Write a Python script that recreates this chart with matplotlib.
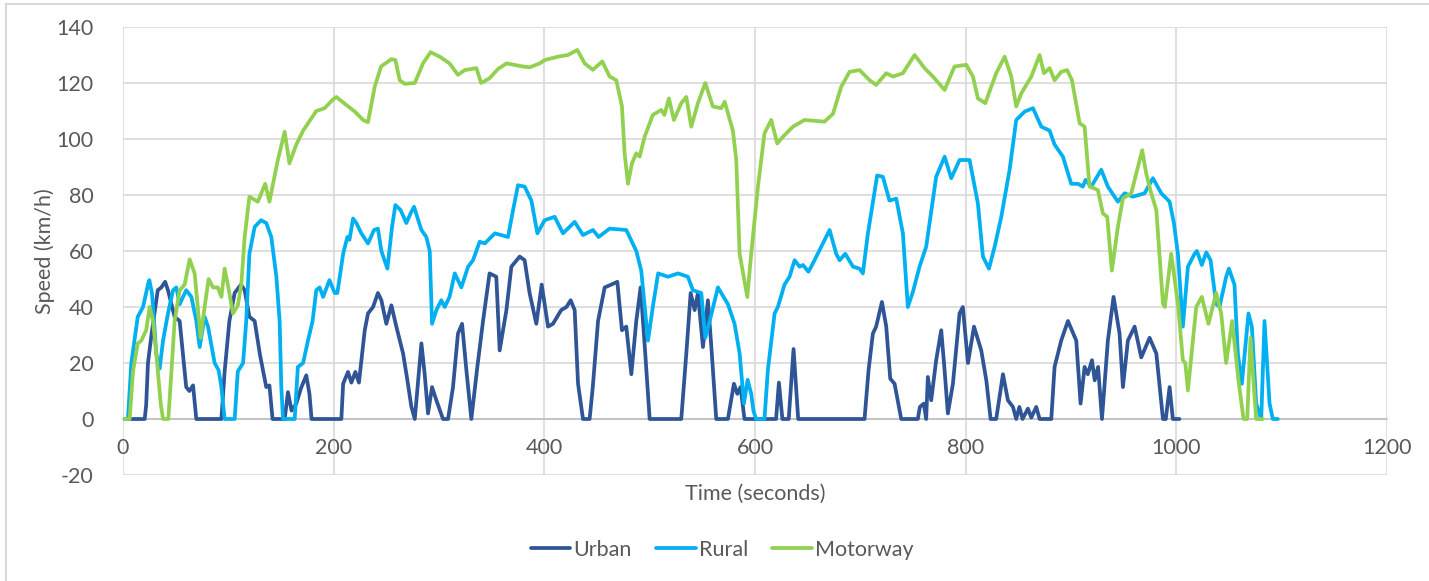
import matplotlib
matplotlib.use('Agg')
import matplotlib.pyplot as plt
from matplotlib.lines import Line2D

# 数据（从图上读取的时间-速度点）
urban_t = [0, 20.6, 22, 23.7, 27, 33, 36.4, 40, 42.7, 46, 49, 53.8, 57, 60, 63, 66.5, 69.6, 93.4, 96.5, 101,
           106, 112, 115.5, 120, 125, 130, 136, 139, 142, 153.5, 156.6, 160, 164.5, 169, 174, 177, 179, 207.3,
           209, 213.6, 216.8, 220.6, 224, 229.5, 232.6, 237.4, 242, 245.3, 250, 254.8, 259.5, 265.9, 270, 273.8,
           277, 280.7, 283.3, 286.4, 289.6, 293.4, 297.5, 303.8, 308.6, 313.3, 318, 321.9, 326, 330.7, 336.4,
           341.8, 348, 354.4, 357.6, 364, 368.7, 376.6, 381.3, 386, 392.4, 397.5, 403.5, 408.2, 416, 421, 425,
           428.8, 432, 436.7, 443, 446, 451, 457.3, 463.6, 469.3, 473.7, 477.8, 482.6, 487.3, 491.4, 495.8, 500,
           530, 534.8, 538.9, 542.7, 545.8, 550.6, 555.3, 559, 563.2, 574.3, 580, 583.2, 586.3, 590, 620, 622.7,
           626, 632, 636.6, 641, 704, 707.8, 711.9, 715, 720.5, 724.6, 728.4, 732.5, 738.8, 754.6, 756.5, 760.3,
           762.5, 764.1, 767.3, 772, 776.8, 780, 783.1, 787.9, 794.2, 797.3, 802.2, 807.9, 814.8, 819.6, 823.7,
           829, 835.4, 840.1, 844.9, 848, 851, 854, 859.1, 862.3, 867, 870.2, 881.3, 884.4, 890.7, 897.1, 905,
           909.1, 912.9, 916, 919.9, 922.5, 925.7, 929.4, 935, 940.4, 946.1, 949.3, 954, 960.4, 966.7, 974.6,
           981, 987.3, 990, 993.6, 996.7, 1003]
urban_v = [0, 0, 5, 20, 30, 46, 47, 49, 46, 41, 36.5, 35, 23, 11.4, 10, 12, 0, 0, 17, 35,
           45, 48, 46, 36.5, 35, 23, 11.4, 12, 0, 0, 9.6, 3, 5.5, 11, 15.6, 9, 0, 0,
           12.6, 16.8, 13, 16.8, 13, 31.7, 37.7, 40, 45, 42.4, 34, 40.6, 33, 23.4, 13.8, 4.3,
           0, 16, 27, 16, 2, 11.4, 6.7, 0, 0, 11.4, 30.5, 34, 17.4, 0, 18.6,
           35, 52, 50.8, 24.5, 38.9, 54.4, 58, 56.7, 45, 34, 48, 33, 34, 38.9, 40, 42.4,
           38.9, 12.6, 0, 0, 11.4, 35, 47, 48, 49, 31.7, 33, 16, 35, 47, 23.4, 0,
           0, 23.4, 45, 38.9, 45, 25.7, 42.4, 23.4, 0, 0, 12.6, 9, 11.4, 0, 0, 13,
           0, 0, 25, 0, 0, 17.4, 30.5, 33, 41.8, 33, 14.4, 12.6, 0, 0, 4.3, 5.5,
           0, 15, 6.7, 21, 31.7, 17.4, 2, 12.6, 37.7, 40, 20, 33, 24.5, 13.8, 0,
           0, 16, 6.7, 4.3, 0, 4.3, 0, 3.7, 0.5, 4.3, 0, 0, 18.6, 28, 35, 28,
           5.5, 18.6, 16, 21, 13.8, 18.6, 0, 28, 43.6, 30.5, 11.4, 28, 33, 22, 29,
           23.4, 0, 0, 11.4, 0, 0]

rural_t = [0, 4.7, 7.9, 14, 19, 23.7, 25, 27.5, 31.7, 34.8, 38, 42.7, 47.5, 50.6, 53.8, 60, 64.9, 69.6, 72.8,
           77.5, 80.7, 87, 90.8, 93.4, 96.5, 106, 109, 114, 117, 120, 125, 131, 136, 140.8, 145.6, 148.7, 150.3,
           151.9, 163, 166, 171, 175.6, 180, 183.5, 186.7, 190, 196, 201, 203.5, 209, 213, 215, 218.4, 221.5,
           226.3, 232.6, 238.3, 242, 245.3, 251, 255.4, 258.6, 263.6, 269, 273, 276.3, 283.3, 288, 291.2, 293.4,
           297.5, 302.2, 305.4, 310, 315, 321.2, 327.6, 332.3, 338.6, 343.4, 353, 359, 365.5, 370.3, 375, 381.3,
           387.7, 393.4, 400.3, 409.8, 417.7, 428.8, 436.7, 446.2, 451.5, 462, 477.8, 487.3, 492, 498.4, 503, 508,
           517.4, 526.9, 536.3, 541, 549, 552.8, 557, 564.8, 574.3, 580.6, 585.4, 589.5, 593, 596.4, 598.5, 601,
           609, 612.2, 618.6, 621.7, 628, 632.8, 637.6, 642.3, 645.5, 650.8, 656.5, 662.9, 670.8, 677.1, 680.3,
           685.7, 693, 699.3, 702.4, 707.2, 716, 721.4, 727.7, 734.1, 740.4, 745.1, 749.9, 756.2, 762.5, 772,
           780, 786.3, 794.2, 803.7, 811.6, 816.4, 822.1, 827.5, 833.8, 841.7, 848, 856, 863.9, 871.8, 879.7,
           884.4, 892.3, 900.2, 906.6, 911.3, 913.8, 919.2, 928.7, 935, 944.5, 950.9, 958.8, 969.8, 977.8, 985.7,
           993.6, 997.7, 1001.5, 1006.2, 1011, 1017.3, 1019.5, 1024.2, 1028.4, 1032.5, 1037.8, 1041, 1047.3,
           1049.9, 1055.2, 1058.4, 1062.2, 1068.5, 1071.7, 1075.8, 1080.6, 1083.7, 1088.5, 1091.6, 1096.4]
rural_v = [0, 0, 20, 36.5, 40, 48, 49.6, 45, 23, 18, 28, 37.7, 46, 47, 41, 46, 43.6, 35, 25.7,
           36.5, 33, 20, 17.4, 11.4, 0, 0, 17, 20, 35, 59, 68.6, 71, 70, 65, 50.8, 35, 11.4,
           0, 0, 18.6, 20, 28, 35, 46, 47, 43.6, 49.6, 45, 45, 59, 65, 64, 71.6, 70,
           66.3, 62.7, 67.5, 68, 60, 53.7, 68.6, 76.4, 74.6, 70, 73.4, 75.8, 67.5, 65, 60, 34,
           38.9, 42.4, 40, 43.6, 52, 47, 54.4, 56.7, 63.3, 62.7, 66.3, 65.7, 65, 74.6, 83.5, 83,
           78, 66.3, 71, 72.2, 66.3, 70.4, 65.7, 67.5, 65, 68, 67.5, 60, 53, 28, 40, 52,
           50.8, 52, 50.8, 46, 45, 29, 35, 47, 41, 34, 23.4, 5.5, 14, 9, 3, 0,
           0, 17.4, 37.7, 40, 48, 50.8, 56.7, 54.4, 55, 52.6, 56.7, 61.5, 67.5, 59, 56.7,
           59, 54.4, 53.7, 52, 66.3, 87, 86.5, 78, 78.7, 66.3, 40, 45.4, 54.4, 61.5, 86.5,
           93.7, 86, 92.5, 92.5, 77, 58, 53.7, 61.5, 72.2, 89, 106.8, 109.8, 111, 104.4, 103,
           98, 93.7, 84, 84, 83, 85.4, 83, 89, 83, 77.6, 80.6, 79.4, 80.6, 86, 80.6,
           77.6, 70, 59, 33, 54.4, 59, 60, 55, 59.5, 56.7, 41.2, 40, 50.8,
           53.7, 48, 23.4, 12.6, 37.7, 33, 5.5, 0, 35, 5.5, 0, 0]

motorway_t = [0, 6.3, 9.5, 14, 17.4, 22, 25.3, 28.5, 31.7, 35.8, 38, 43, 46, 49, 53.8, 58.5, 63.3, 68, 73.7,
              77.5, 81.3, 85.4, 90, 93.4, 96.5, 100, 104.4, 109, 112.3, 115.5, 120, 128, 135, 139, 147, 153.5,
              158, 164.5, 171, 175.6, 183.5, 191.4, 199, 202.6, 210.5, 220, 228, 232.6, 239, 245, 254.8, 258.6,
              262.7, 267.4, 277, 284.8, 292, 300.7, 310, 318, 324.4, 335.5, 340, 348, 356, 364, 378, 386, 395.6,
              400.3, 413, 422.4, 431.3, 438.3, 446, 455, 462, 468.3, 473.7, 476.2, 479.4, 483.2, 487.3, 490.5,
              495.2, 503, 511, 514, 518.3, 523, 530, 534.8, 539.5, 545.8, 552.8, 560, 568, 571.2, 579, 582.2,
              585.4, 592.7, 596.4, 602.8, 609, 615.4, 621.1, 626.5, 636, 647, 666, 674, 681.9, 689.8, 699.3,
              708.8, 715, 724.6, 730.9, 740.4, 751.5, 761, 768.9, 780, 789.4, 800.6, 806.9, 811.6, 818.6, 824.3,
              829, 837, 843.3, 848, 852.8, 862.3, 870.2, 874.3, 879.7, 884.4, 890.7, 896.4, 900.9, 908.2, 912.9,
              917.6, 925.5, 930.3, 934.4, 938.8, 944.5, 949.3, 957.2, 963.5, 967.6, 971.4, 976.2, 981, 987.3, 989,
              995.1, 1001.5, 1006.2, 1008.5, 1011, 1015.7, 1018.9, 1024.2, 1030.5, 1037.8, 1042.6, 1047.3, 1053,
              1059, 1063.8, 1067.3, 1070.4, 1075.8, 1082]
motorway_v = [0, 0, 17, 27, 28, 31.7, 40, 35, 23, 5.5, 0, 0, 17, 35, 46, 48, 57, 52, 29,
              40, 50, 47, 47, 43.6, 53.7, 47, 37.7, 40.6, 48, 65, 79.4, 77.6, 84, 77.6, 92.5, 102.6,
              91.3, 98, 103, 105.6, 110, 111, 114, 115, 112.6, 109.8, 106.8, 106, 118.7, 125.9, 128.5, 128.2,
              121, 119.7, 120, 127, 131, 129.4, 127, 122.9, 124.6, 125.3, 120, 121.7, 125, 127, 126, 125.6, 127,
              128.2, 129.4, 130, 131.8, 127, 124.7, 127.7, 122.3, 121, 111.6, 94.9, 84, 91.3, 94.9, 93.7,
              100.8, 108.6, 110.4, 108.6, 114.5, 106.8, 112.8, 115, 104.4, 112.8, 120, 111.6, 111, 113.3, 103, 92.5,
              59, 43.6, 59, 83, 102, 106.8, 98.4, 100.8, 104.4, 106.8, 106.2, 109, 118.7, 124, 124.6,
              121, 119.3, 123.5, 122.3, 123.5, 130, 125.3, 122.3, 117.5, 125.9, 126.5, 122.3, 114.5, 112.8, 118.7,
              123.5, 129.4, 122.3, 111.6, 116.3, 122.3, 130, 123.5, 125.3, 121, 124, 124.6, 121, 105.6, 104.4,
              83, 81.8, 73.4, 72.2, 53, 68.6, 78.8, 80.6, 90, 96, 87.7, 80.6, 74.6, 41.2, 40,
              59, 41.2, 21, 20, 10.2, 28, 40, 43.6, 34, 45, 37.7, 20, 35,
              13.8, 0, 0, 29, 0, 0]

series_names = ['Urban', 'Rural', 'Motorway']
series_colors = ['#2F5597', '#00B0F0', '#92D050']

plt.rcParams['font.family'] = ['Lato', 'DejaVu Sans']
plt.rcParams['axes.unicode_minus'] = False
text_color = '#595959'
fs = 15.5

fig = plt.figure(figsize=(14.29, 5.81), dpi=100)
ax = fig.add_axes([123 / 1429, 1 - 475 / 581, (1387 - 123) / 1429, (475 - 27) / 581])

for t, v, name, c in zip([urban_t, rural_t, motorway_t], [urban_v, rural_v, motorway_v],
                         series_names, series_colors):
    ax.plot(t, v, color=c, lw=2.7, label=name, solid_joinstyle='round', solid_capstyle='round', zorder=3)

ax.set_xlim(0, 1200)
ax.set_ylim(-20, 140)
ax.set_xticks(range(0, 1201, 200))
ax.set_yticks(range(-20, 141, 20))
ax.grid(True, color='#D9D9D9', lw=1.2, zorder=0)
ax.set_axisbelow(True)

for s in ['top', 'right', 'left']:
    ax.spines[s].set_visible(False)
ax.spines['bottom'].set_position(('data', 0))
ax.spines['bottom'].set_color('#BFBFBF')
ax.spines['bottom'].set_linewidth(1.2)
ax.spines['bottom'].set_zorder(1)
ax.tick_params(axis='both', length=0, labelsize=fs, labelcolor=text_color)
ax.tick_params(axis='x', pad=14)
ax.tick_params(axis='y', pad=21)

fig.text(0.5 * (123 + 1387) / 1429, 1 - 494 / 581, 'Time (seconds)', ha='center', va='center',
         fontsize=fs, color=text_color)
fig.text(45 / 1429, 1 - 251 / 581, 'Speed (km/h)', ha='center', va='center', rotation=90,
         fontsize=fs, color=text_color)

handles = [Line2D([], [], color=c, lw=2.7, solid_capstyle='round') for c in series_colors]
fig.legend(handles, series_names, loc='center', bbox_to_anchor=(722 / 1429, 1 - 550 / 581), ncol=3,
           frameon=False, fontsize=fs, labelcolor=text_color, handlelength=1.85, handletextpad=0.15,
           columnspacing=1.1)

# 图表外框
fig.add_artist(Line2D([6 / 1429, 1], [1 - 4 / 581, 1 - 4 / 581], color='#D9D9D9', lw=1.5))
fig.add_artist(Line2D([6 / 1429, 6 / 1429], [0, 1 - 4 / 581], color='#D9D9D9', lw=1.5))

plt.savefig('out.png', dpi=100)
